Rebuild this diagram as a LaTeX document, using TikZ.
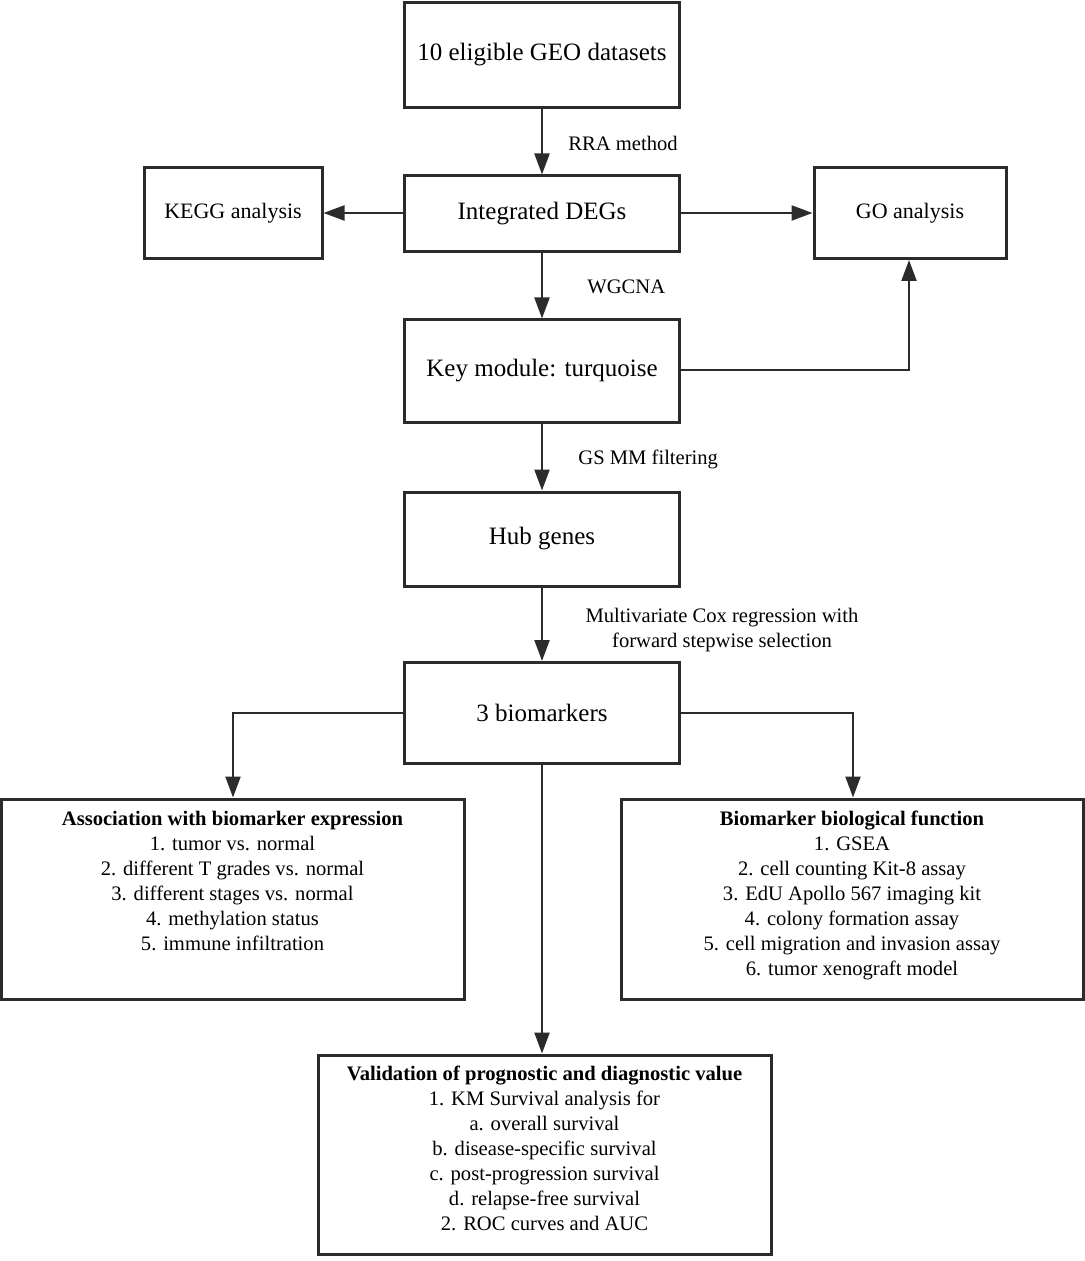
\documentclass[tikz,border=0pt]{standalone}
\usepackage{fontspec}
\setmainfont{Liberation Serif}
\usetikzlibrary{arrows.meta}
\definecolor{ln}{HTML}{2B2B2B}
\begin{document}
\begin{tikzpicture}[x=0.5pt,y=-0.5pt,
  box/.style={draw=ln,line width=1.5pt,minimum width=137.5pt,inner sep=0pt,font=\fontsize{12.5}{15}\selectfont},
  sbox/.style={draw=ln,line width=1.5pt,inner sep=0pt,font=\fontsize{11}{13}\selectfont},
  bigbox/.style={draw=ln,line width=1.5pt,inner sep=0pt},
  list/.style={anchor=north,align=center,inner sep=0pt,font=\fontsize{10.3}{12.5}\selectfont},
  lbl/.style={inner sep=0pt,font=\fontsize{10.3}{12.5}\selectfont},
  arr/.style={draw=ln,line width=1.1pt,-{Triangle[length=10.5pt,width=7.5pt]}}]
\useasboundingbox (0,0) rectangle (1084,1261);
\node[box,minimum height=52.5pt] (geo) at (542,55) {10 eligible GEO datasets};
\node[box,minimum height=38pt] (deg) at (542,214) {Integrated DEGs};
\node[sbox,minimum width=89pt,minimum height=45.5pt] (kegg) at (233,213) {KEGG analysis};
\node[sbox,minimum width=96pt,minimum height=45.5pt] (go) at (910,213) {GO analysis};
\node[box,minimum height=51pt] (key) at (542,371) {Key module: turquoise};
\node[box,minimum height=47pt] (hub) at (542,539) {Hub genes};
\node[box,minimum height=50.5pt] (bio) at (542,713) {3 biomarkers};
\node[bigbox,minimum width=231.5pt,minimum height=100pt] (assoc) at (232.5,899) {};
\node[bigbox,minimum width=231pt,minimum height=100pt] (func) at (852,899) {};
\node[bigbox,minimum width=226.5pt,minimum height=99.5pt] (valid) at (544.5,1154.5) {};
\node[list] (assoct) at (232.5,811) {\textbf{Association with biomarker expression}\\1. tumor vs. normal\\2. different T grades vs. normal\\3. different stages vs. normal\\4. methylation status\\5. immune infiltration};
\node[list] (funct) at (852,811) {\textbf{Biomarker biological function}\\1. GSEA\\2. cell counting Kit-8 assay\\3. EdU Apollo 567 imaging kit\\4. colony formation assay\\5. cell migration and invasion assay\\6. tumor xenograft model};
\node[list] (validt) at (544.5,1066) {\textbf{Validation of prognostic and diagnostic value}\\1. KM Survival analysis for\\a. overall survival\\b. disease-specific survival\\c. post-progression survival\\d. relapse-free survival\\2. ROC curves and AUC};
\node[lbl,anchor=west] (l1) at (568,143) {RRA method};
\node[lbl,anchor=west] (l2) at (587,287) {WGCNA};
\node[lbl,anchor=west] (l3) at (578,459) {GS MM filtering};
\node[lbl,align=center] (l4) at (722,630) {Multivariate Cox regression with\\forward stepwise selection};
\coordinate (c0) at (542,213);
\coordinate (c1) at (909,370);
\coordinate (c2) at (233,713);
\coordinate (c3) at (853,713);
\draw[arr] (geo) -- (deg);
\draw[arr] (deg.west |- c0) -- (kegg.east |- c0);
\draw[arr] (deg.east |- c0) -- (go.west |- c0);
\draw[arr] (deg) -- (key);
\draw[arr] (key.east |- c1) -- (c1) -- (go.south -| c1);
\draw[arr] (key) -- (hub);
\draw[arr] (hub) -- (bio);
\draw[arr] (bio.west |- c2) -- (c2) -- (assoc.north -| c2);
\draw[arr] (bio.east |- c3) -- (c3) -- (func.north -| c3);
\draw[arr] (bio) -- (valid.north -| bio);
\end{tikzpicture}
\end{document}
